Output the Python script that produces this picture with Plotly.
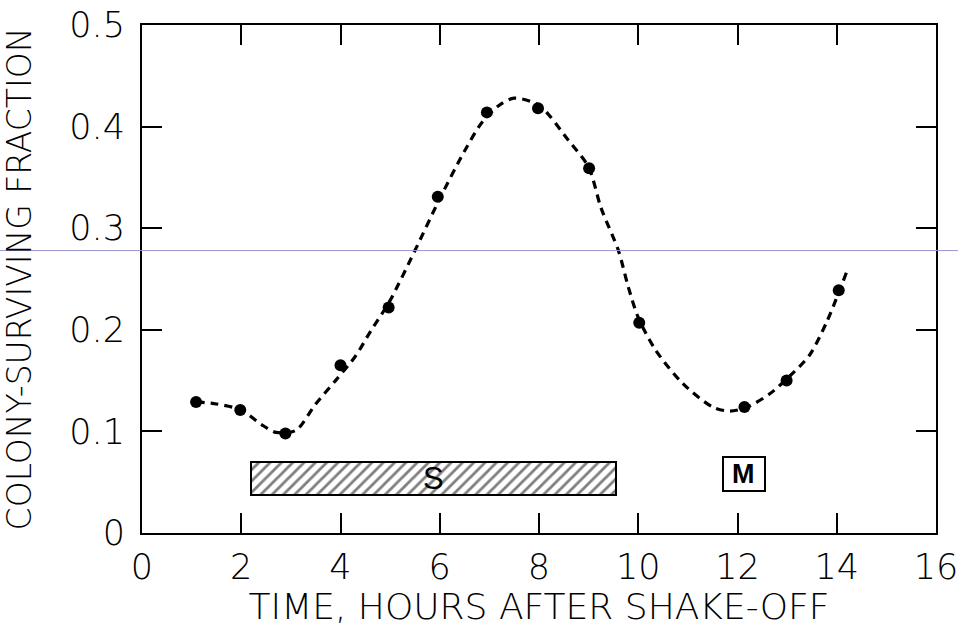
import plotly.graph_objects as go

# Measured data points
pt_x = [1.09, 1.98, 2.89, 4.0, 4.97, 5.96, 6.95, 7.98, 9.01, 10.02, 12.14, 12.99, 14.04]
pt_y = [0.129, 0.121, 0.098, 0.165, 0.222, 0.331, 0.414, 0.418, 0.359, 0.207, 0.124, 0.150, 0.239]

# Fitted dashed curve
cv_x = [1.1, 1.5, 2.0, 2.4, 2.7, 3.1, 3.5, 3.9, 4.3, 4.6, 5.0, 5.5, 6.0, 6.5, 6.85, 7.2, 7.5,
        8.0, 8.6, 9.0, 9.25, 9.6, 9.8, 10.0, 10.35, 10.9, 11.5, 11.85, 12.2, 12.65, 13.0,
        13.45, 13.8, 14.2]
cv_y = [0.129, 0.127, 0.121, 0.107, 0.099, 0.101, 0.127, 0.150, 0.174, 0.198, 0.229, 0.278,
        0.329, 0.376, 0.404, 0.421, 0.428, 0.421, 0.386, 0.360, 0.320, 0.278, 0.242, 0.212,
        0.180, 0.147, 0.124, 0.120, 0.124, 0.137, 0.152, 0.175, 0.208, 0.257]

# Phase bars: S (hatched) and M (box)
phase_labels = ["S", "M"]
phase_start = [2.2, 11.7]
phase_end = [9.55, 12.55]
phase_center_y = [0.0535, 0.058]
phase_height = [0.033, 0.034]

x_ticks = [0, 2, 4, 6, 8, 10, 12, 14, 16]
x_ticktext = ["0", "2", "4", "6", "8", "10", "12", "14", "16"]
y_ticks = [0, 0.1, 0.2, 0.3, 0.4, 0.5]
y_ticktext = ["0", "0.1", "0.2", "0.3", "0.4", "0.5"]

TFONT = "DejaVu Sans"

fig = go.Figure()

# S bar (hatched)
fig.add_trace(go.Bar(
    orientation="h",
    y=[phase_center_y[0]], x=[phase_end[0] - phase_start[0]], base=[phase_start[0]],
    width=[phase_height[0]],
    marker=dict(color="white", line=dict(color="black", width=2),
                pattern=dict(shape="/", fgcolor="black", bgcolor="white", size=8, solidity=0.35)),
    showlegend=False, hoverinfo="skip",
))
# M box
fig.add_trace(go.Bar(
    orientation="h",
    y=[phase_center_y[1]], x=[phase_end[1] - phase_start[1]], base=[phase_start[1]],
    width=[phase_height[1]],
    marker=dict(color="white", line=dict(color="black", width=2)),
    showlegend=False, hoverinfo="skip",
))

# Labels centred on the bars
fig.add_annotation(x=(phase_start[0] + phase_end[0]) / 2, y=phase_center_y[0],
                   text=phase_labels[0], showarrow=False,
                   font=dict(family="Liberation Sans", size=31, color="black"))
fig.add_annotation(x=(phase_start[1] + phase_end[1]) / 2, y=phase_center_y[1],
                   text="<b>" + phase_labels[1] + "</b>", showarrow=False,
                   font=dict(family="Liberation Sans", size=27, color="black"))

fig.add_trace(go.Scatter(
    x=cv_x, y=cv_y, mode="lines",
    line=dict(color="black", width=3.2, dash="8px,6px", shape="spline", smoothing=0.8),
    showlegend=False, hoverinfo="skip",
))
fig.add_trace(go.Scatter(
    x=pt_x, y=pt_y, mode="markers",
    marker=dict(color="black", size=12),
    showlegend=False,
))

fig.add_shape(type="line", xref="paper", yref="y", x0=-142 / 794, x1=1 + 22 / 794,
              y0=0.278, y1=0.278, line=dict(color="#9a9ad2", width=1), layer="above")

fig.update_layout(
    width=958, height=627,
    margin=dict(l=142, r=22, t=25, b=94),
    plot_bgcolor="white", paper_bgcolor="white",
    bargap=0,
    font=dict(family=TFONT, color="black"),
    xaxis=dict(
        range=[0, 16], tickvals=x_ticks, ticktext=x_ticktext, automargin=False,
        ticks="inside", ticklen=20, tickwidth=2, tickcolor="black",
        showline=True, linecolor="black", linewidth=2, mirror="ticks",
        showgrid=False, zeroline=False, ticklabelstandoff=2, ticklabeloverflow="allow",
        tickfont=dict(family=TFONT, size=35, color="black", weight=200),
        title=dict(text="TIME, HOURS AFTER SHAKE-OFF", standoff=2,
                   font=dict(family=TFONT, size=36, color="black", weight=200)),
    ),
    yaxis=dict(
        range=[0, 0.5], tickvals=y_ticks, ticktext=y_ticktext, automargin=False,
        ticks="inside", ticklen=20, tickwidth=2, tickcolor="black",
        showline=True, linecolor="black", linewidth=2, mirror="ticks",
        showgrid=False, zeroline=False, ticklabelstandoff=8, ticklabeloverflow="allow",
        tickfont=dict(family=TFONT, size=35, color="black", weight=200),
        title=dict(text="COLONY-SURVIVING FRACTION", standoff=28,
                   font=dict(family=TFONT, size=33, color="black", weight=200)),
    ),
)

fig.write_html("out.html")
